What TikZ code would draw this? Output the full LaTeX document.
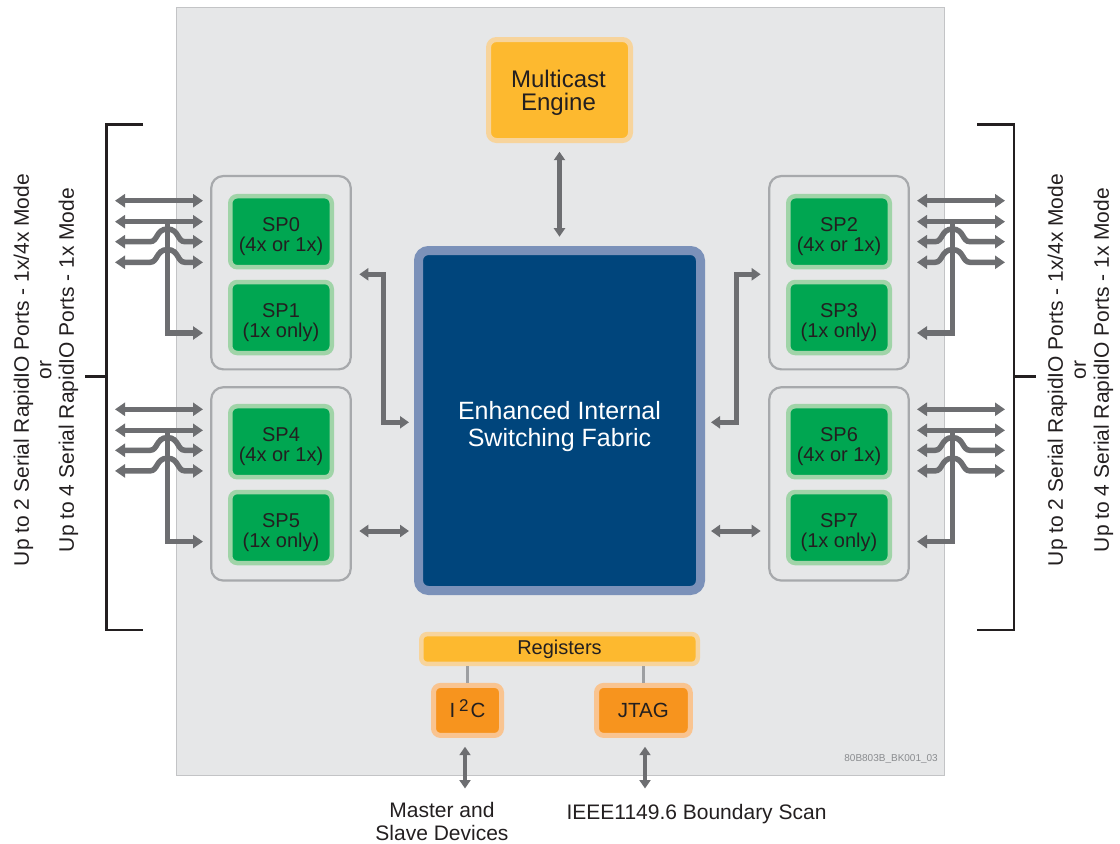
\documentclass[tikz,border=0pt]{standalone}
\usepackage{fontspec}
\setmainfont{Liberation Sans}
\usetikzlibrary{arrows.meta}
\definecolor{bgc}{HTML}{E6E7E8}
\definecolor{framec}{HTML}{C3C4C6}
\definecolor{grpc}{HTML}{A7A9AC}
\definecolor{grn}{HTML}{00A651}
\definecolor{grnh}{HTML}{A0D4A8}
\definecolor{yel}{HTML}{FDB92F}
\definecolor{yelh}{HTML}{F7D49C}
\definecolor{org}{HTML}{F7941E}
\definecolor{orgh}{HTML}{F9C490}
\definecolor{blu}{HTML}{00457C}
\definecolor{bluh}{HTML}{7B91B9}
\definecolor{arr}{HTML}{6D6E71}
\definecolor{txt}{HTML}{231F20}
\definecolor{conn}{HTML}{9D9FA2}
\definecolor{wmc}{HTML}{8A8C8F}

\newcommand\fs[2]{\fontsize{#1}{#2}\selectfont}

\newcommand\ports[1]{%
  \coordinate (#1a) at (115,200.7); \coordinate (#1A) at (203,200.7);
  \coordinate (#1b) at (115,221.7); \coordinate (#1B) at (203,221.7);
  \coordinate (#1c) at (115,241.7); \coordinate (#1C) at (203,241.7);
  \coordinate (#1d) at (115,262.3); \coordinate (#1D) at (203,262.3);
  \coordinate (#1v) at (167.5,221.7);
  \coordinate (#1e) at (203,333);
  \draw[portarr,<->] (#1a) -- (#1A);
  \draw[portarr,<->] (#1b) -- (#1B);
  \draw[portarr,->] (#1v) |- (#1e);
  \draw[portarr,<->] (#1c) -- (150,241.7) .. controls (158,241.7) and (156,229) .. (167.5,229) .. controls (179,229) and (177,241.7) .. (185,241.7) -- (#1C);
  \draw[portarr,<->] (#1d) -- (150,262.3) .. controls (158,262.3) and (156,249.6) .. (167.5,249.6) .. controls (179,249.6) and (177,262.3) .. (185,262.3) -- (#1D);
}

\begin{document}
\begin{tikzpicture}[x=1pt,y=-1pt,
  every node/.style={inner sep=0pt, text=txt},
  spbox/.style={draw=grnh, fill=grn, line width=4.5pt, rounded corners=7pt, minimum width=101.5pt, minimum height=71pt},
  sptext/.style={align=center, font=\fs{20}{20.5}},
  grp/.style={draw=grpc, line width=2.2pt, rounded corners=12pt, minimum width=139.5pt, minimum height=193.3pt},
  ybox/.style={draw=yelh, fill=yel, line width=5pt, rounded corners=8pt},
  obox/.style={draw=orgh, fill=org, line width=5pt, rounded corners=7pt},
  portarr/.style={draw=arr, line width=5.5pt, >={Triangle[width=13pt,length=10pt]}},
  linkarr/.style={draw=arr, line width=5pt, >={Triangle[width=12pt,length=9pt]}},
  ioarr/.style={draw=arr, line width=4.5pt, >={Triangle[width=11pt,length=8.5pt]}},
  brk/.style={draw=txt, line width=2.8pt},
  connline/.style={draw=conn, line width=2.2pt},
]
\useasboundingbox (0,0) rectangle (1120,844);

% chip body
\node[fill=bgc, draw=framec, line width=1pt, minimum width=768pt, minimum height=768pt] (chip) at (560,391) {};

% port groups
\node[grp] (gTL) at (281,272.7) {};
\node[grp] (gBL) at (281,483.9) {};
\node[grp] (gTR) at (839,272.7) {};
\node[grp] (gBR) at (839,483.9) {};

\node[spbox] (sp0) at (281,231.7) {};
\node[spbox] (sp1) at (281,317.5) {};
\node[spbox] (sp4) at (281,441.7) {};
\node[spbox] (sp5) at (281,527.5) {};
\node[spbox] (sp2) at (839,231.7) {};
\node[spbox] (sp3) at (839,317.5) {};
\node[spbox] (sp6) at (839,441.7) {};
\node[spbox] (sp7) at (839,527.5) {};

\node[sptext] (t0) at ([yshift=-5pt]sp0.center) {SP0\\(4x or 1x)};
\node[sptext] (t1) at ([yshift=-5pt]sp1.center) {SP1\\(1x only)};
\node[sptext] (t4) at ([yshift=-5pt]sp4.center) {SP4\\(4x or 1x)};
\node[sptext] (t5) at ([yshift=-5pt]sp5.center) {SP5\\(1x only)};
\node[sptext] (t2) at ([yshift=-5pt]sp2.center) {SP2\\(4x or 1x)};
\node[sptext] (t3) at ([yshift=-5pt]sp3.center) {SP3\\(1x only)};
\node[sptext] (t6) at ([yshift=-5pt]sp6.center) {SP6\\(4x or 1x)};
\node[sptext] (t7) at ([yshift=-5pt]sp7.center) {SP7\\(1x only)};

% multicast engine
\node[ybox, minimum width=142pt, minimum height=101pt] (mc) at (559.5,90) {};
\node[align=center, font=\fs{24}{23.5}] (mct) at (558.5,93) {Multicast\\Engine};

% switching fabric
\node[draw=bluh, fill=blu, line width=9pt, rounded corners=10pt, minimum width=282pt, minimum height=340pt] (fab) at (559.5,420.5) {};
\node[text=white, align=center, font=\fs{25}{27}] (fabt) at (559.5,426.5) {Enhanced Internal\\Switching Fabric};

% registers, I2C, JTAG
\node[ybox, line width=4.5pt, rounded corners=6pt, minimum width=276.5pt, minimum height=29.8pt, font=\fs{20}{20}] (reg) at (559.5,649) {Registers};
\node[obox, minimum width=68pt, minimum height=50pt, font=\fs{20.5}{20.5}] (i2c) at (467.5,710.4) {I\kern4pt\smash{\raisebox{6pt}{\fs{17}{17}2}}\kern2pt C};
\node[obox, minimum width=93.7pt, minimum height=50pt, font=\fs{20.5}{20.5}] (jtag) at (643.4,710.4) {JTAG};
\draw[connline] (i2c.north) -- (i2c.north |- reg.south);
\draw[connline] (jtag.north) -- (jtag.north |- reg.south);

% multicast arrow
\coordinate (mcA) at (559.5,151.7);
\coordinate (mcB) at (559.5,236.7);
\draw[ioarr,<->] (mcA) -- (mcB);

% fabric links
\coordinate (fl1) at (359.3,274.3); \coordinate (fl2) at (409,422.3);
\coordinate (fr1) at (760.7,274.3); \coordinate (fr2) at (711,422.3);
\coordinate (fl3) at (359.3,531); \coordinate (fl4) at (409,531);
\coordinate (fr3) at (760.7,531); \coordinate (fr4) at (711,531);
\draw[linkarr,<->] (fl1) -- ++(24,0) |- (fl2);
\draw[linkarr,<->] (fr1) -- ++(-24,0) |- (fr2);
\draw[linkarr,<->] (fl3) -- (fl4);
\draw[linkarr,<->] (fr3) -- (fr4);

% external port arrows
\ports{tl}
\begin{scope}[yshift=-208.6pt]\ports{bl}\end{scope}
\begin{scope}[xshift=1120pt,xscale=-1]\ports{tr}\end{scope}
\begin{scope}[xshift=1120pt,xscale=-1,yshift=-208.6pt]\ports{br}\end{scope}

% brackets
\draw[brk] (143,124.3) -- (106.7,124.3) -- (106.7,630) -- (143,630);
\draw[brk] (85,376.7) -- (106.7,376.7);
\draw[brk] (977,124.3) -- (1014,124.3) -- (1014,630) -- (977,630);
\draw[brk] (1014,376.7) -- (1036,376.7);

% side labels
\node[rotate=90, align=center, font=\fs{21}{22.5}] (lblL) at (46,370) {Up to 2 Serial RapidIO Ports - 1x/4x Mode\\or\\Up to 4 Serial RapidIO Ports - 1x Mode};
\node[rotate=90, align=center, font=\fs{21}{23}] (lblR) at (1080.5,370) {Up to 2 Serial RapidIO Ports - 1x/4x Mode\\or\\Up to 4 Serial RapidIO Ports - 1x Mode};

% bottom I/O
\coordinate (i2cA) at (465,746.7); \coordinate (i2cB) at (465,788.5);
\coordinate (jtA) at (645,746.7); \coordinate (jtB) at (645,788.5);
\draw[ioarr,<->] (i2cA) -- (i2cB);
\draw[ioarr,<->] (jtA) -- (jtB);
\node[align=center, font=\fs{21}{23}] (mst) at (442,821) {Master and\\Slave Devices};
\node[font=\fs{21}{23}] (ieee) at (696.5,814.5) {IEEE1149.6 Boundary Scan};

% drawing number
\node[anchor=east, font=\fs{10}{10}, text=wmc] (wm) at (938,759) {80B803B\_BK001\_03};
\end{tikzpicture}
\end{document}
